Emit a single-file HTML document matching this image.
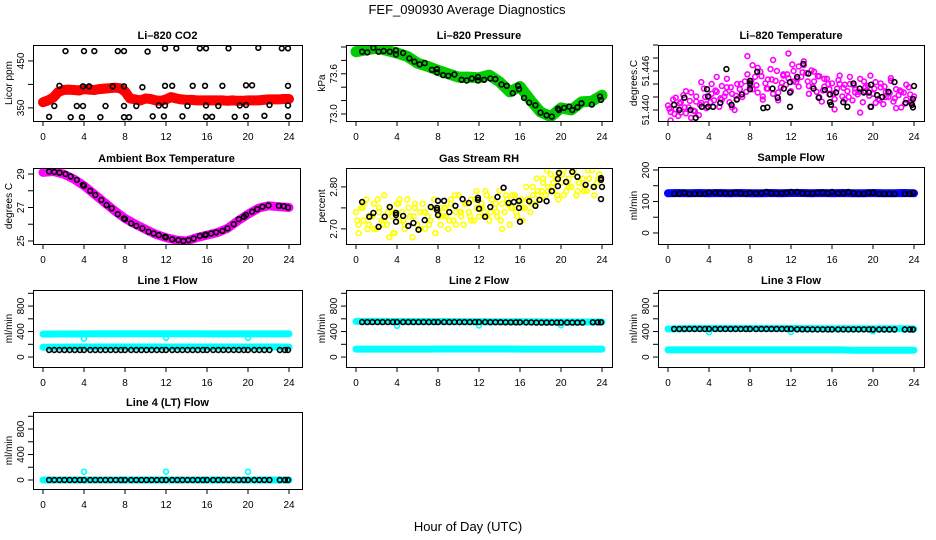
<!DOCTYPE html>
<html><head><meta charset="utf-8">
<style>
html,body{margin:0;padding:0;background:#fff;}
svg{display:block;font-family:"Liberation Sans",sans-serif;}
</style></head>
<body>
<svg id="chart" width="936" height="540" viewBox="0 0 936 540" xmlns="http://www.w3.org/2000/svg">
<rect width="936" height="540" fill="#fff"/>
<text x="467" y="14" font-size="13" text-anchor="middle">FEF_090930  Average Diagnostics</text>
<text x="468" y="531" font-size="13" text-anchor="middle">Hour of Day (UTC)</text>
</svg>
<script>
// ---------- DATA ----------
const co2RedVals = [362,366,372,384,388,389,388,387,390,389,388,390,391,392,393,392,385,370,368,366,370,369,366,365,368,373,370,368,367,367,366,366,366,366,366,366,365,366,365,365,366,366,366,367,368,368,368,369,369];
const co2BlackT = [2.2,4,5,7.3,7.9,10.2,11.9,13,15.3,15.9,18.1,21,23.3,23.9, 1.6,3.9,4.5,6.8,7.9,9.7,11.9,12.6,14.6,15.8,17.5,19.8,20.4,23.9, 1.1,3.3,3.9,6.1,7.9,9.1,11.3,11.9,14.1,15.9,17.1,19.2,19.8,22.1,23.9, 0.6,2.7,3.8,5.6,7.9,8.4,10.7,11.8,13.6,15.9,16.5,18.7,19.8,21.6,23.9];
const co2BlackV = [471,471,471,471,471,470,477,477,477,477,477,478,477,477, 397,396,396,396,396,394,397,397,397,397,397,398,398,397, 354,354,354,354,354,354,355,355,354,355,354,355,356,356,355, 331,330,330,330,330,330,332,332,332,331,331,331,332,333,332];

const presGreenVals = [73.93,73.96,73.98,73.95,73.91,73.86,73.76,73.71,73.65,73.60,73.55,73.55,73.54,73.58,73.48,73.33,73.41,73.21,73.03,72.96,73.09,73.06,73.18,73.19,73.28];
const presBlackT = [0.6,1.1,1.7,2.2,2.7,3.3,3.9,3.9,4.6,5.2,5.7,6.2,6.7,7.4,7.9,7.9,8.5,9,9.6,10.3,10.8,11.3,11.9,11.9,12.5,13.1,13.6,14.2,14.7,15.3,15.8,15.9,16.4,16.9,17.5,18,18.6,19.1,19.7,19.8,20.3,20.8,21.1,21.6,22,23,23.8,23.9];
const presBlackV = [73.93,73.92,73.99,73.93,73.94,73.93,73.95,73.89,73.91,73.83,73.78,73.74,73.76,73.66,73.67,73.62,73.58,73.57,73.59,73.51,73.50,73.53,73.55,73.50,73.51,73.53,73.52,73.44,73.42,73.31,73.42,73.37,73.24,73.17,73.13,73.02,72.98,72.96,73.08,73.06,73.09,73.11,73.06,73.10,73.16,73.14,73.26,73.21];

const tempMagVals = [51.4407,51.4397,51.4416,51.4401,51.4391,51.4412,51.4423,51.4395,51.4404,51.4427,51.4399,51.4413,51.4392,
51.4411,51.4433,51.4403,51.4420,51.4440,51.4415,51.4428,51.4405,51.4437,51.4421,51.4448,51.4412,51.4425,51.4400,51.4417,51.4432,
51.4424,51.4444,51.4455,51.4436,51.4469,51.4451,51.4427,51.4459,51.4416,51.4441,51.4433,51.4463,
51.4425,51.4445,51.4415,51.4435,51.4453,51.4439,51.4449,51.4429,51.4460,51.4443,51.4467,51.4451,51.4475,51.4457,51.4437,
51.4461,51.4444,51.4428,51.4452,51.4413,51.4436,51.4448,51.4424,51.4441,51.4417,51.4433,51.4453,51.4421,51.4439,51.4429,
51.4440,51.4415,51.4433,51.4424,51.4448,51.4412,51.4429,51.4437,51.4405,51.4425,51.4443,51.4417,51.4435,51.4409,51.4428,51.4420,51.4445,51.4413,51.4432,51.4423,51.4404,51.4427,51.4416,51.4435,51.4411,51.4421];
const tempMagVals2 = [51.4384,51.4419,51.4396,51.4429,51.4388,51.4421,51.4443,51.4409,51.4425,51.4451,51.4416,51.4435,51.4404,51.4440,51.4420,51.4483,51.4432,51.4465,51.4421,51.4447,51.4477,51.4427,51.4455,51.4487,51.4444,51.4436,51.4469,51.4425,51.4459,51.4420,51.4448,51.4432,51.4401,51.4440,51.4416,51.4451,51.4427,51.4396,51.4435,51.4453,51.4411,51.4441,51.4420,51.4449,51.4403,51.4428,51.4439,51.4413];
const tempMagVals3 = [51.4402,51.4394,51.4410,51.4404,51.4414,51.4398,51.4408,51.4420,51.4412,51.4430,51.4418,51.4426,51.4435,51.4422,51.4440,51.4428,51.4445,51.4438,51.4452,51.4433,51.4447,51.4460,51.4442,51.4455,51.4470,51.4448,51.4458,51.4444,51.4436,51.4452,51.4430,51.4440,51.4425,51.4446,51.4434,51.4420,51.4438,51.4428,51.4444,51.4422,51.4433,51.4415,51.4436,51.4426,51.4418,51.4430,51.4410,51.4424];
const tempBlackT = [0.6,1.1,1.6,2.2,2.7,3.3,3.8,3.9,3.9,4.4,5.1,5.7,6.2,6.7,7.2,8,8,8,8.7,9.3,9.7,10.2,10.7,11.3,11.9,11.9,11.9,12.6,13.2,13.7,14.2,14.7,15.3,15.8,15.8,15.9,16.4,17.1,17.5,18.1,18.7,19.1,19.6,19.8,19.8,20.4,20.9,21.5,22.1,23.2,23.8,23.9,23.9,24];
const tempBlackV = [51.4408,51.4400,51.4419,51.4400,51.4388,51.4405,51.4432,51.4421,51.4405,51.4405,51.4411,51.4463,51.4408,51.4416,51.4424,51.4441,51.4445,51.4432,51.4459,51.4403,51.4404,51.4433,51.4419,51.4433,51.4443,51.4427,51.4405,51.4451,51.4471,51.4456,51.4433,51.4419,51.4431,51.4424,51.4412,51.4408,51.4427,51.4412,51.4405,51.4441,51.4433,51.4427,51.4427,51.4439,51.4405,51.4423,51.4420,51.4428,51.4443,51.4411,51.4408,51.4417,51.4404,51.4437];

const ambMagVals = [29.1,29.15,29.0,28.7,28.3,27.8,27.3,26.8,26.35,26.0,25.7,25.4,25.2,25.05,25.0,25.2,25.35,25.5,25.75,26.2,26.6,26.95,27.1,27.05,27.0];
const ambBlackT = [0.6,1.1,1.6,2.2,2.7,3.3,3.9,4.0,4.6,5.1,5.7,6.2,6.7,7.3,7.9,8.0,8.6,9.1,9.7,10.3,10.8,11.3,11.9,12.0,12.6,13.2,13.7,14.2,14.7,15.3,15.8,15.9,16.4,16.9,17.5,18,18.6,19.1,19.6,19.8,20.4,20.9,21.4,22,23,23.5,23.9];
const ambBlackV = [29.15,29.12,29.08,29.0,28.85,28.65,28.35,28.3,28.0,27.75,27.45,27.15,26.95,26.6,26.35,26.3,26.05,25.9,25.75,25.55,25.45,25.35,25.25,25.22,25.1,25.05,25.0,25.05,25.15,25.3,25.35,25.38,25.45,25.52,25.6,25.75,26.0,26.3,26.45,26.55,26.75,26.9,27.05,27.12,27.1,27.08,27.0];

const rhYelVals = [2.74,2.69,2.75,2.72,2.77,2.71,2.73,2.76,2.70,2.74,2.72,2.78,2.71,2.75,2.73,2.69,2.76,
2.72,2.74,2.70,2.77,2.73,2.68,2.75,2.71,2.74,2.76,2.70,2.73,2.72,2.75,2.69,2.74,
2.71,2.73,2.75,2.70,2.76,2.72,2.74,2.78,2.73,2.71,2.76,2.74,2.77,2.72,2.75,2.73,
2.76,2.74,2.78,2.72,2.77,2.75,2.73,2.79,2.76,2.74,2.77,2.71,2.75,2.78,2.73,2.76,
2.72,2.75,2.77,2.74,2.78,2.76,2.79,2.77,
2.81,2.78,2.80,2.83,2.79,2.82,2.77,2.81,2.84,2.79,2.82,2.80,2.83,2.78,2.81,2.85,2.80,2.79,2.82,2.84,2.78,2.81,2.83,2.80];
const rhYelVals2 = [2.71,2.76,2.73,2.70,2.75,2.72,2.68,2.74,2.77,2.71,2.73,2.76,2.70,2.74,2.72,2.69,2.75,2.73,2.77,2.71,2.74,2.76,2.72,2.79,2.75,2.73,2.77,2.74,2.70,2.76,2.78,2.73,2.75,2.77,2.80,2.78,2.82,2.79,2.81,2.83,2.78,2.80,2.84,2.81,2.79,2.82,2.80,2.83];
const rhYelVals3 = [2.72,2.75,2.70,2.73,2.77,2.71,2.74,2.69,2.76,2.72,2.75,2.73,2.70,2.74,2.71,2.77,2.73,2.75,2.72,2.78,2.74,2.76,2.73,2.77,2.75,2.79,2.74,2.76,2.72,2.78,2.75,2.74,2.77,2.80,2.76,2.82,2.79,2.84,2.80,2.78,2.83,2.81,2.86,2.79,2.82,2.84,2.80,2.82];
const rhBlackT = [0.6,1.3,1.7,2.2,2.8,3.3,3.9,3.9,3.9,4.6,5.1,5.6,6.1,6.7,7.3,7.9,7.9,8,8,8.6,9.1,9.7,10.4,11,11.9,11.9,12,12.6,13.1,13.8,14.4,14.9,15.4,15.9,15.9,16,16.9,17.5,17.9,18.6,19.1,19.7,19.7,19.8,20.5,21.1,21.6,22.4,23.2,23.9,23.9,24,23.9];
const rhBlackV = [2.764,2.729,2.738,2.705,2.729,2.752,2.738,2.733,2.717,2.731,2.707,2.714,2.698,2.721,2.752,2.750,2.745,2.733,2.767,2.767,2.740,2.755,2.771,2.762,2.774,2.769,2.748,2.729,2.752,2.776,2.798,2.762,2.764,2.767,2.750,2.717,2.766,2.755,2.769,2.766,2.790,2.802,2.819,2.833,2.812,2.836,2.824,2.805,2.800,2.821,2.817,2.800,2.771];

const hourlyT = [0,1,2,3,4,5,6,7,8,9,10,11,12,13,14,15,16,17,18,19,20,21,22,23,24];
const flowBlackT = [0.6,1.1,1.6,2.1,2.6,3.1,3.6,4.0,4.6,5.1,5.6,6.1,6.6,7.1,7.6,8.0,8.6,9.1,9.6,10.1,10.6,11.1,11.6,12.0,12.6,13.1,13.6,14.1,14.6,15.1,15.6,16.0,16.6,17.1,17.6,18.1,18.6,19.1,19.6,20.0,20.6,21.1,21.6,22.1,23.1,23.6,23.9];
const sampleBlueVals = [126,127,126,127,126,127,126,127,126,126,127,126,127,127,126,127,126,127,126,126,127,126,126,127,126];
const sampleBlackV = [124,124,128,124,124,124,124,129,128,126,126,126,128,126,124,128,126,126,130,126,126,126,128,130,130,126,126,126,128,128,126,130,126,126,130,126,124,124,128,128,124,124,124,124,124,124,128];
const line1HiVals = [360,362,363,362,364,365,366,366,366,366,367,367,367,366,366,365,364,364,364,364,364,363,363,363,363];
const line1LoVals = [155,156,156,157,157,157,157,157,157,157,157,157,157,157,157,157,157,157,157,157,157,157,157,157,156];
const line1BlackV = [110,110,110,110,110,110,110,110,110,110,110,110,110,110,110,110,110,110,110,110,110,110,110,110,110,110,110,110,110,110,110,110,110,110,110,110,110,110,110,110,110,110,110,110,110,110,110];
const line2HiVals = [560,560,560,560,558,558,558,558,558,558,556,556,556,555,555,554,553,552,551,550,550,550,550,550,550];
const line2LoVals = [125,125,125,125,125,125,125,125,127,127,127,127,127,127,127,127,125,125,125,125,125,125,125,125,125];
const line2BlackV = [549,549,549,549,549,549,549,549,549,549,549,549,549,549,549,549,549,549,549,549,549,549,549,549,549,547,547,547,545,545,545,545,543,543,541,541,541,541,541,541,541,541,541,541,545,545,545];
const line3HiVals = [440,445,448,448,448,448,448,448,448,448,448,448,448,446,446,444,444,444,444,444,444,444,444,444,440];
const line3LoVals = [112,112,112,112,112,112,112,112,112,112,112,112,112,112,112,112,112,112,108,108,108,108,108,108,108];
const line3BlackV = [440,440,440,440,440,440,440,440,440,440,440,440,440,440,440,440,440,440,440,440,440,440,440,440,436,436,436,434,434,434,434,434,434,434,434,434,434,434,434,432,432,432,432,432,432,432,432];
const line4Vals = [0,0,0,0,0,0,0,0,0,0,0,0,0,0,0,0,0,0,0,0,0,0,0,0,0];
const line4BlackV = [0,0,0,0,0,0,0,0,0,0,0,0,0,0,0,0,0,0,0,0,0,0,0,0,0,0,0,0,0,0,0,0,0,0,0,0,0,0,0,0,0,0,0,0,0,0,0];
const dipT = [4,12,20];
const line1DipV = [290,300,300];
const line2DipV = [490,495,500];
const line3DipV = [390,395,405];
const line4DipV = [130,130,130];

const xTicks = [0,4,8,12,16,20,24];

// ---------- DRAWING ----------
const NS = 'http://www.w3.org/2000/svg';
const svg = document.getElementById('chart');
function mk(tag, attrs, parent){
  const e = document.createElementNS(NS, tag);
  for (const k in attrs) e.setAttribute(k, attrs[k]);
  (parent||svg).appendChild(e);
  return e;
}
function makePanel(name, title, ylab, L, T, R, B, ylo, yhi, yticks, ylabels){
  const g = mk('g', {});
  
  
  const x = t => L + 10 + t * (246 / 24);
  const y = v => B - (v - ylo) / (yhi - ylo) * (B - T);
  const tt = mk('text', {x:(L+R)/2, y:T-6, 'font-size':11, 'font-weight':'bold', 'text-anchor':'middle'}, g);
  tt.textContent = title;
  
  
  const yl = mk('text', {x:0, y:0, 'font-size':10, 'text-anchor':'middle', transform:`translate(${L-21},${(T+B)/2}) rotate(-90)`}, g);
  yl.textContent = ylab;
  
  
  const ax = mk('g', {stroke:'#000', 'stroke-width':1}, g);
  
  
  mk('line', {x1:x(0), x2:x(24), y1:B+0.5, y2:B+0.5}, ax);
  xTicks.forEach(t => {
    mk('line', {x1:x(t), x2:x(t), y1:B, y2:B+5}, ax);
    const lb = mk('text', {x:x(t), y:B+19, 'font-size':10, 'text-anchor':'middle', stroke:'none', fill:'#000'}, g);
    lb.textContent = t;
    
    
  });
  mk('line', {x1:L+0.5, x2:L+0.5, y1:y(yticks[0]), y2:y(yticks[yticks.length-1])}, ax);
  yticks.forEach(v => mk('line', {x1:L-5, x2:L, y1:y(v), y2:y(v)}, ax));
  ylabels.forEach(v => {
    const lb = mk('text', {x:0, y:0, 'font-size':10, 'text-anchor':'middle', transform:`translate(${L-9},${y(v)}) rotate(-90)`}, g);
    lb.textContent = String(v);
    
    
  });
  const clip = 'clip-' + name;
  const cp = mk('clipPath', {id:clip}, g);
  mk('rect', {x:L, y:T, width:R-L, height:B-T}, cp);
  const plot = mk('g', {'clip-path':`url(#${clip})`}, g);
  
  
  const box = mk('rect', {x:L+0.5, y:T+0.5, width:R-L, height:B-T, fill:'none', stroke:'#000', 'stroke-width':1}, g);
  
  
  return {x, y, plot, name};
}
function band(p, times, vals, color, w){
  const pts = times.map((t,i) => p.x(t).toFixed(1) + ',' + p.y(vals[i]).toFixed(1)).join(' ');
  const pl = mk('polyline', {points:pts, fill:'none', stroke:color, 'stroke-width':w, 'stroke-linejoin':'round', 'stroke-linecap':'round'}, p.plot);
  
  
}
function pts(p, times, vals, color, label, sw){
  const g = mk('g', {fill:'none', stroke:color, 'stroke-width':sw||1.6}, p.plot);
  
  
  vals.forEach((v,i) => {
    const c = mk('circle', {cx:p.x(times[i]).toFixed(1), cy:p.y(v).toFixed(1), r:2.4}, g);
    
    
  });
}
const stepT = (n) => Array.from({length:n}, (_,i) => i * 24 / (n - 1));
const halfT = (n) => Array.from({length:n}, (_,i) => 0.25 + i * 0.5);
const qT = (n) => Array.from({length:n}, (_,i) => 0.125 + i * 0.5);

// CO2
let p = makePanel('co2', 'Li\u2013820 CO2', 'Licor ppm', 33,45,302,121, 322,484, [350,400,450],[350,450]);
band(p, stepT(co2RedVals.length), co2RedVals, '#ff0000', 10);
pts(p, stepT(co2RedVals.length), co2RedVals, '#ff0000', 'red-points');
pts(p, co2BlackT, co2BlackV, '#000', 'black-points');

// Pressure
p = makePanel('pressure', 'Li\u2013820 Pressure', 'kPa', 346,45,612,121, 72.895,74.03, [73.0,73.2,73.4,73.6,73.8,74.0],['73.0','73.6']);
band(p, hourlyT, presGreenVals, '#00cc00', 11);
pts(p, presBlackT, presBlackV, '#000', 'black-points');

// Temperature
p = makePanel('li-temp', 'Li\u2013820 Temperature', 'degrees.C', 658,45,924,121, 51.43831,51.4500, [51.440,51.442,51.444,51.446,51.448,51.450],['51.440','51.446']);
pts(p, stepT(tempMagVals.length), tempMagVals, '#ff00ff', 'magenta-points');
pts(p, halfT(tempMagVals2.length), tempMagVals2, '#ff00ff', 'magenta-points-2');
pts(p, qT(tempMagVals3.length), tempMagVals3, '#ff00ff', 'magenta-points-3');
pts(p, tempBlackT, tempBlackV, '#000', 'black-points');

// Ambient
p = makePanel('ambient', 'Ambient Box Temperature', 'degrees C', 33,168,300,244, 24.82,29.36, [25,26,27,28,29],[25,27,29]);
band(p, hourlyT, ambMagVals, '#ff00ff', 9);
pts(p, ambBlackT, ambBlackV, '#000', 'black-points');

// RH
p = makePanel('rh', 'Gas Stream RH', 'percent', 346,168,612,244, 2.664,2.845, [2.70,2.75,2.80],['2.70','2.80']);
pts(p, stepT(rhYelVals.length), rhYelVals, '#ffff00', 'yellow-points');
pts(p, halfT(rhYelVals2.length), rhYelVals2, '#ffff00', 'yellow-points-2');
pts(p, qT(rhYelVals3.length), rhYelVals3, '#ffff00', 'yellow-points-3');
pts(p, rhBlackT, rhBlackV, '#000', 'black-points');

// Sample flow
p = makePanel('sample-flow', 'Sample Flow', 'ml/min', 658,167,924,244, -35,209.5, [0,50,100,150,200],[0,100,200]);
band(p, hourlyT, sampleBlueVals, '#0000ff', 8);
pts(p, flowBlackT, sampleBlackV, '#000', 'black-points');

const fTicks = [0,200,400,600,800,1000], fLabels = [0,400,800];
// Line 1
p = makePanel('line1', 'Line 1 Flow', 'ml/min', 33,290,302,367, -156,1052, fTicks, fLabels);
band(p, hourlyT, line1HiVals, '#00ffff', 7);
band(p, hourlyT, line1LoVals, '#00ffff', 7);
pts(p, dipT, line1DipV, '#00ffff', 'cyan-outliers');
pts(p, flowBlackT, line1BlackV, '#000', 'black-points');
// Line 2
p = makePanel('line2', 'Line 2 Flow', 'ml/min', 346,290,612,367, -156,1052, fTicks, fLabels);
band(p, hourlyT, line2HiVals, '#00ffff', 7);
band(p, hourlyT, line2LoVals, '#00ffff', 7);
pts(p, dipT, line2DipV, '#00ffff', 'cyan-outliers');
pts(p, flowBlackT, line2BlackV, '#000', 'black-points');
// Line 3
p = makePanel('line3', 'Line 3 Flow', 'ml/min', 658,290,924,367, -156,1052, fTicks, fLabels);
band(p, hourlyT, line3HiVals, '#00ffff', 7);
band(p, hourlyT, line3LoVals, '#00ffff', 7);
pts(p, dipT, line3DipV, '#00ffff', 'cyan-outliers');
pts(p, flowBlackT, line3BlackV, '#000', 'black-points');
// Line 4
p = makePanel('line4', 'Line 4 (LT) Flow', 'ml/min', 33,412,302,489, -141,1067, fTicks, fLabels);
band(p, hourlyT, line4Vals, '#00ffff', 7);
pts(p, dipT, line4DipV, '#00ffff', 'cyan-outliers');
pts(p, flowBlackT, line4BlackV, '#000', 'black-points');
</script>
</body></html>
